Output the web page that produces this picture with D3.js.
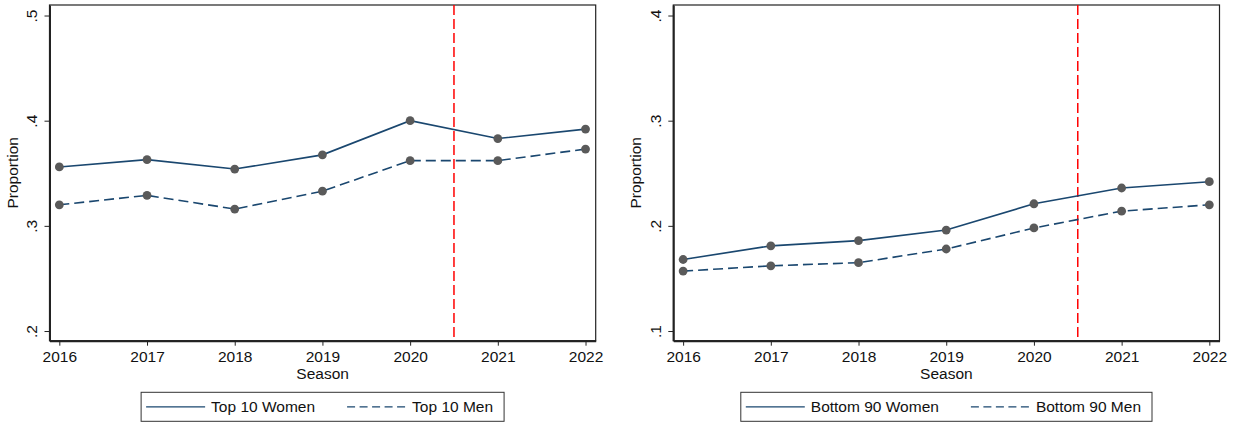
<!DOCTYPE html>
<html>
<head>
<meta charset="utf-8">
<script src="https://cdn.jsdelivr.net/npm/d3@7"></script>
<style>
  html, body { margin: 0; padding: 0; background: #fff; }
  svg { display: block; font-family: "Liberation Sans", Arial, sans-serif; }
</style>
</head>
<body>
<svg id="chart" width="1237" height="426"></svg>
<script>
// Seasons on the x axis
const seasons = [2016, 2017, 2018, 2019, 2020, 2021, 2022];

// Share of the total, by group and season
const top10Women = [0.356, 0.363, 0.354, 0.3675, 0.400, 0.383, 0.392];
const top10Men = [0.320, 0.329, 0.316, 0.333, 0.362, 0.362, 0.373];
const bottom90Women = [0.168, 0.181, 0.186, 0.196, 0.221, 0.236, 0.242];
const bottom90Men = [0.157, 0.162, 0.165, 0.178, 0.198, 0.214, 0.220];

// Tick labels for each panel's y axis
const topTicks = [0.2, 0.3, 0.4, 0.5];
const bottomTicks = [0.1, 0.2, 0.3, 0.4];

// Season boundary marked with a vertical reference line
const breakSeason = 2020.5;

const panels = [
  { left: 49.5, women: top10Women, men: top10Men, ticks: topTicks,
    yDomain: [0.1908, 0.510], names: ["Top 10 Women", "Top 10 Men"] },
  { left: 673.3, women: bottom90Women, men: bottom90Men, ticks: bottomTicks,
    yDomain: [0.0908, 0.410], names: ["Bottom 90 Women", "Bottom 90 Men"] }
];

const plotW = 546.2, plotTop = 5, plotBottom = 340.7;
const lineColor = "#1a476f", markerColor = "#5a5a5a";
const fontSize = 15.5;
const svg = d3.select("#chart");

panels.forEach(p => {
  const x = d3.scaleLinear().domain([2015.888, 2022.116]).range([p.left, p.left + plotW]);
  const y = d3.scaleLinear().domain(p.yDomain).range([plotBottom, plotTop]);
  const g = svg.append("g");

  // plot region outline
  g.append("rect")
    .attr("x", p.left).attr("y", plotTop)
    .attr("width", plotW).attr("height", plotBottom - plotTop)
    .attr("fill", "none").attr("stroke", "#222").attr("stroke-width", 1.2);

  // x axis
  const xAxis = g.append("g").attr("transform", `translate(0,${plotBottom})`)
    .call(d3.axisBottom(x).tickValues(seasons).tickFormat(d3.format("d"))
      .tickSize(5).tickSizeOuter(0).tickPadding(4));
  xAxis.select(".domain").attr("stroke", "#222").attr("stroke-width", 2);
  xAxis.selectAll(".tick line").attr("stroke", "#222").attr("stroke-width", 1);
  xAxis.selectAll(".tick text").attr("font-size", fontSize).attr("fill", "#111")
    .attr("font-family", "Liberation Sans, Arial, sans-serif")
    .attr("dy", null).attr("y", 21.5);

  // y axis, with labels turned to read upward
  const yAxis = g.append("g").attr("transform", `translate(${p.left},0)`)
    .call(d3.axisLeft(y).tickValues(p.ticks)
      .tickFormat(d => d3.format(".1f")(d).replace(/^0/, ""))
      .tickSize(5).tickSizeOuter(0));
  yAxis.select(".domain").attr("stroke", "#222").attr("stroke-width", 2);
  yAxis.selectAll(".tick line").attr("stroke", "#222").attr("stroke-width", 1);
  yAxis.selectAll(".tick text")
    .attr("font-size", fontSize).attr("fill", "#111")
    .attr("font-family", "Liberation Sans, Arial, sans-serif")
    .attr("x", null).attr("dy", null)
    .attr("text-anchor", "middle")
    .attr("transform", "translate(-12.5,0) rotate(-90)");

  // axis titles
  g.append("text")
    .attr("transform", `translate(${p.left - 32},${(plotTop + plotBottom) / 2}) rotate(-90)`)
    .attr("text-anchor", "middle").attr("font-size", fontSize).attr("fill", "#111")
    .text("Proportion");
  g.append("text")
    .attr("x", p.left + plotW / 2).attr("y", 379)
    .attr("text-anchor", "middle").attr("font-size", fontSize).attr("fill", "#111")
    .text("Season");

  // reference line between seasons
  g.append("line")
    .attr("x1", x(breakSeason)).attr("x2", x(breakSeason))
    .attr("y1", plotTop).attr("y2", plotBottom - 1)
    .attr("stroke", "#ff0000").attr("stroke-width", 1.5)
    .attr("stroke-dasharray", "10,4");

  const line = d3.line().x((d, i) => x(seasons[i])).y(d => y(d));
  const series = [
    { values: p.women, dash: null },
    { values: p.men, dash: "10,5" }
  ];
  series.forEach(s => {
    g.append("path").datum(s.values)
      .attr("d", line).attr("fill", "none")
      .attr("stroke", lineColor).attr("stroke-width", 1.6)
      .attr("stroke-dasharray", s.dash);
  });
  series.forEach(s => {
    g.selectAll(null).data(s.values).enter().append("circle")
      .attr("cx", (d, i) => x(seasons[i])).attr("cy", d => y(d))
      .attr("r", 4.4).attr("fill", markerColor);
  });

  // legend
  const leg = g.append("g");
  const box = leg.append("rect");
  let cx = 0;
  const sampleLen = 59, yMid = 0;
  p.names.forEach((name, i) => {
    const start = cx;
    leg.append("line")
      .attr("x1", start).attr("x2", start + sampleLen)
      .attr("y1", yMid).attr("y2", yMid)
      .attr("stroke", lineColor).attr("stroke-width", 1.2)
      .attr("stroke-dasharray", i === 1 ? "8,4.5" : null);
    const t = leg.append("text")
      .attr("x", start + sampleLen + 6).attr("y", yMid + 5.5)
      .attr("font-size", fontSize).attr("fill", "#111").text(name);
    cx = start + sampleLen + 6 + t.node().getComputedTextLength() + 32;
  });
  const contentW = cx - 32;
  const padL = 5, padR = 11;
  const boxW = contentW + padL + padR;
  const boxLeft = p.left + plotW / 2 - boxW / 2;
  box.attr("x", -padL).attr("y", -14.5).attr("width", boxW).attr("height", 29)
    .attr("fill", "#fff").attr("stroke", "#333").attr("stroke-width", 1);
  leg.attr("transform", `translate(${boxLeft + padL},406.8)`);
});
</script>
</body>
</html>
